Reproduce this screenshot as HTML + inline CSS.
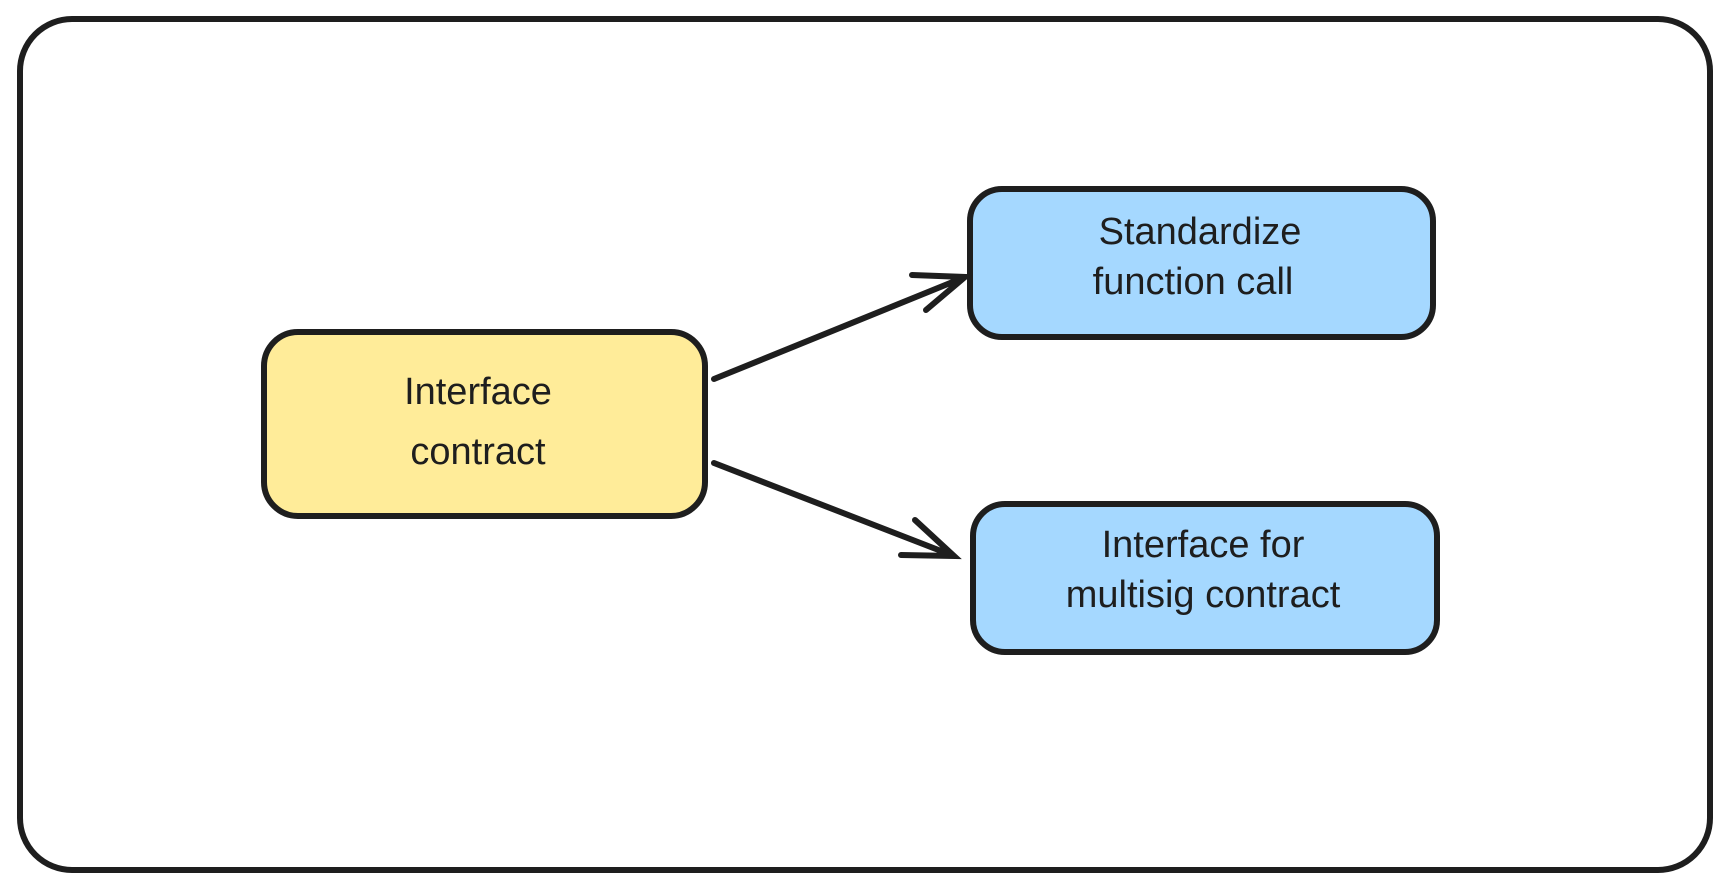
<!DOCTYPE html>
<html><head><style>
body{margin:0;background:#fff;}
svg{display:block}
text{font-family:"Liberation Sans",sans-serif;font-size:38px;fill:#1e1e1e;text-anchor:middle;font-weight:500}
</style></head><body>
<svg width="1728" height="886" viewBox="0 0 1728 886">
<rect x="20" y="19" width="1690" height="851" rx="52" fill="#fff" stroke="#1e1e1e" stroke-width="6"/>
<rect x="264" y="332" width="441" height="184" rx="34" fill="#ffec99" stroke="#1e1e1e" stroke-width="6"/>
<rect x="970" y="189" width="463" height="148" rx="32" fill="#a5d8ff" stroke="#1e1e1e" stroke-width="6"/>
<rect x="973" y="504" width="464" height="148" rx="32" fill="#a5d8ff" stroke="#1e1e1e" stroke-width="6"/>
<g stroke="#1e1e1e" stroke-width="6" stroke-linecap="round" fill="none">
<path d="M714 379 L965 277 M912 275 L965 277 L926 310"/>
<path d="M714 463 L954 556 M915 520 L954 556 L901 555"/>
</g>
<text x="478" y="404">Interface</text>
<text x="478" y="464">contract</text>
<text x="1200" y="244">Standardize</text>
<text x="1193" y="294">function call</text>
<text x="1203" y="557">Interface for</text>
<text x="1203" y="607">multisig contract</text>
</svg>
</body></html>
